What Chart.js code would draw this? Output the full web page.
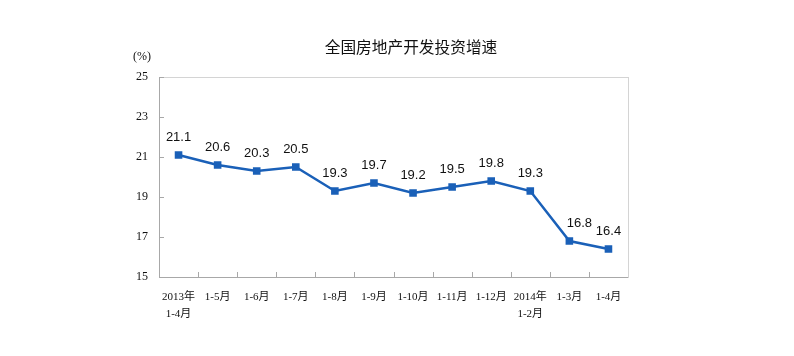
<!DOCTYPE html>
<html><head><meta charset="utf-8">
<script src="https://cdn.jsdelivr.net/npm/chart.js@4/dist/chart.umd.min.js"></script>
<style>html,body{margin:0;padding:0;background:#fff}#wrap{width:794px;height:356px}</style>
</head><body><div id="wrap"><canvas id="c" width="794" height="356"></canvas></div>
<script>
const title = "全国房地产开发投资增速";
const unitLabel = "(%)";
const categories = [["2013年","1-4月"],"1-5月","1-6月","1-7月","1-8月","1-9月","1-10月","1-11月","1-12月",["2014年","1-2月"],"1-3月","1-4月"];
const growth = [21.1,20.6,20.3,20.5,19.3,19.7,19.2,19.5,19.8,19.3,16.8,16.4];
const yTicks = [15,17,19,21,23,25];

const serif = '"Liberation Serif","Noto Sans CJK SC",serif';
const sans = '"Liberation Sans","Noto Sans CJK SC",sans-serif';
const cjk = '"Noto Sans CJK SC",sans-serif';

const deco = {
  id:'deco',
  beforeDraw(chart){
    const {ctx, chartArea:a} = chart;
    ctx.save();
    ctx.strokeStyle = '#d4d4d4'; ctx.lineWidth = 1;
    ctx.strokeRect(a.left+0.5, a.top+0.5, a.right-a.left, a.bottom-a.top);
    ctx.restore();
  },
  afterDatasetsDraw(chart){
    const {ctx, chartArea:a, scales} = chart;
    ctx.save();
    ctx.strokeStyle = '#a8a8a8'; ctx.lineWidth = 1;
    ctx.beginPath();
    ctx.moveTo(a.left+0.5, a.top); ctx.lineTo(a.left+0.5, a.bottom+0.5);
    ctx.lineTo(a.right, a.bottom+0.5);
    ctx.stroke();
    ctx.beginPath();
    yTicks.forEach(v=>{ const y = Math.round(scales.y.getPixelForValue(v))+0.5; ctx.moveTo(a.left, y); ctx.lineTo(a.left+5, y); });
    for(let i=1;i<categories.length;i++){
      const x = Math.round((scales.x.getPixelForTick(i-1)+scales.x.getPixelForTick(i))/2)+0.5;
      ctx.moveTo(x, a.bottom); ctx.lineTo(x, a.bottom-5);
    }
    ctx.stroke();
    ctx.fillStyle = '#111'; ctx.font = '13px '+sans; ctx.textAlign='center'; ctx.textBaseline='middle';
    const meta = chart.getDatasetMeta(0);
    meta.data.forEach((p,i)=>{
      // nudge a label sitting on a steep segment to the right, as in the original
      const prev = i>0 ? growth[i-1]-growth[i] : 0;
      const dx = prev > 2 ? 10 : 0;
      ctx.fillText(growth[i].toFixed(1), p.x+dx, p.y-18);
    });
    ctx.font = '15.7px '+cjk; ctx.fillStyle='#111';
    ctx.fillText(title, 411, 47);
    ctx.font = '12px '+serif;
    ctx.fillText(unitLabel, 142, 57);
    ctx.restore();
  }
};

new Chart(document.getElementById('c'), {
  type:'line',
  data:{labels:categories, datasets:[{data:growth, borderColor:'#1a60b8', backgroundColor:'#1a60b8', borderWidth:2.5, pointStyle:'rect', pointRadius:3.6, pointHoverRadius:3.6, tension:0}]},
  options:{
    responsive:false, animation:false, devicePixelRatio:1,
    layout:{padding:{top:77,right:166,left:0,bottom:0}},
    plugins:{legend:{display:false}, tooltip:{enabled:false}, title:{display:false}},
    scales:{
      x:{offset:true, grid:{display:false, drawTicks:false}, border:{display:false},
         ticks:{color:'#111', font:{family:serif, size:11, lineHeight:1.5}, padding:12, maxRotation:0, autoSkip:false},
         afterFit(s){ s.height = 79; }},
      y:{min:15, max:25, afterBuildTicks(s){ s.ticks = yTicks.map(v=>({value:v})); },
         grid:{display:false, drawTicks:false}, border:{display:false},
         ticks:{color:'#111', font:{family:serif, size:12}, padding:11},
         afterFit(s){ s.width = 159; }}
    }
  },
  plugins:[deco]
});
</script></body></html>
